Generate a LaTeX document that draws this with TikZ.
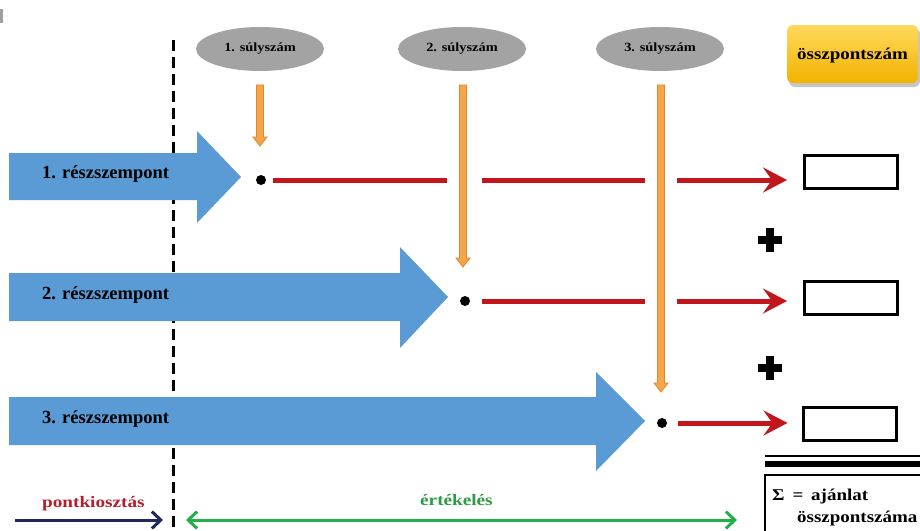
\documentclass[tikz,border=0pt]{standalone}
\usepackage{fontspec}
\setmainfont{Liberation Serif}
\usetikzlibrary{arrows.meta,shapes.geometric,calc}
\definecolor{blueA}{HTML}{5B9BD5}
\definecolor{orangeA}{HTML}{F5A54A}
\definecolor{orangeB}{HTML}{E38628}
\definecolor{redA}{HTML}{C3161C}
\definecolor{grayA}{HTML}{A3A3A3}
\definecolor{goldTop}{HTML}{FFD95C}
\definecolor{goldBot}{HTML}{F2B200}
\definecolor{greenA}{HTML}{22B04B}
\definecolor{greenT}{HTML}{2E9A46}
\definecolor{redT}{HTML}{B3202D}
\definecolor{navyA}{HTML}{1E2A5E}
\newcommand\widetxt[1]{\scalebox{1.15}[1]{#1}}
\begin{document}
\begin{tikzpicture}[x=1pt,y=-1pt,
  rlabel/.style={anchor=base west,inner sep=0pt,font=\fontsize{18.5}{20}\selectfont\bfseries},
  weight/.style={ellipse,fill=grayA,minimum width=128pt,minimum height=44pt,inner sep=0pt,
     font=\fontsize{12.5}{14}\selectfont\bfseries},
  dotn/.style={circle,fill=black,inner sep=0pt,minimum size=10pt},
  scorebox/.style={draw=black,line width=3pt,minimum width=93pt,minimum height=33pt,inner sep=0pt},
  redline/.style={draw=redA,line width=5pt},
  redarrow/.style={redline,-{Stealth[length=24pt,width=25pt,inset=9pt]}},
  sepline/.style={draw=black,line width=3pt,dash pattern=on 11pt off 6pt},
  plusline/.style={line width=8pt,draw=black},
  bottomarrow/.style={line width=3pt},
  mybarb/.tip={Straight Barb[length=9pt,width=17pt]}
]
\useasboundingbox (0,0) rectangle (920,530);
\clip (0,0) rectangle (920,530);
\fill[white] (0,0) rectangle (920,530);
% small mark at top-left
\fill[gray!75] (0,9) rectangle (3,23);

% separating dashed line
\coordinate (dtop) at (173,40);
\coordinate (dbot) at (173,532);
\draw[sepline] (dtop) -- (dbot);

% blue arrows
\fill[blueA] (9,153) -- (197,153) -- (197,131) -- (241,177) -- (197,223) -- (197,200) -- (9,200) -- cycle;
\fill[blueA] (9,273) -- (400,273) -- (400,247) -- (448,297) -- (400,348) -- (400,321) -- (9,321) -- cycle;
\fill[blueA] (9,397) -- (596,397) -- (596,372) -- (645,421) -- (596,471) -- (596,445) -- (9,445) -- cycle;
\node[rlabel] (r1) at (42,178) {1. részszempont};
\node[rlabel] (r2) at (42,299) {2. részszempont};
\node[rlabel] (r3) at (42,423) {3. részszempont};

% weight ellipses
\node[weight] (e1) at (260,49) {\widetxt{1. súlyszám}};
\node[weight] (e2) at (462,49) {\widetxt{2. súlyszám}};
\node[weight] (e3) at (660,49) {\widetxt{3. súlyszám}};

% orange arrows
\foreach \x/\t in {260/146,463/267,661/392}{
  \filldraw[fill=orangeA,draw=orangeB,line width=0.8pt]
    ({\x-3.5},85) -- ({\x+3.5},85) -- ({\x+3.5},{\t-9}) -- ({\x+7},{\t-9}) -- (\x,\t)
    -- ({\x-7},{\t-9}) -- ({\x-3.5},{\t-9}) -- cycle;
}

% dots
\node[dotn] (d1) at (261,180) {};
\node[dotn] (d2) at (465,301) {};
\node[dotn] (d3) at (662,423) {};

% score boxes
\node[scorebox] (b1) at (851,172) {};
\node[scorebox] (b2) at (851,298) {};
\node[scorebox] (b3) at (849.5,424) {};

% red lines
\coordinate (a1) at (447,180);
\coordinate (a2) at (482,180);
\coordinate (a3) at (645,180);
\coordinate (a4) at (677,180);
\draw[redline] ($(d1)+(12,0)$) -- (a1);
\draw[redline] (a2) -- (a3);
\draw[redarrow,shorten >=16pt] (a4) -- (b1.west |- d1);
\coordinate (c3) at (645,301);
\coordinate (c4) at (677,301);
\draw[redline] ($(d2)+(17,0)$) -- (c3);
\draw[redarrow,shorten >=16pt] (c4) -- (b2.west |- d2);
\draw[redarrow,shorten >=14pt] ($(d3)+(16,0)$) -- (b3.west |- d3);

% plus signs
\node[inner sep=0pt,minimum size=24pt] (p1) at (770,240) {};
\node[inner sep=0pt,minimum size=24pt] (p2) at (770,368) {};
\foreach \p in {p1,p2}{
  \draw[plusline] (\p.west) -- (\p.east);
  \draw[plusline] (\p.north) -- (\p.south);
}

% total score header
\fill[gray!45,rounded corners=6pt] (789,28) rectangle (920,87);
\shade[top color=goldTop,bottom color=goldBot,rounded corners=6pt] (787,25) rectangle (918,83);
\node[font=\fontsize{16.5}{18}\selectfont\bfseries,inner sep=0pt] (osz) at (852.5,56) {\widetxt{összpontszám}};

% double line and sum box
\coordinate (l1a) at (765,456);
\coordinate (l1b) at (922,456);
\coordinate (l2a) at (765,464);
\coordinate (l2b) at (922,464);
\draw[line width=2pt] (l1a) -- (l1b);
\draw[line width=6pt] (l2a) -- (l2b);
\draw[line width=2.5pt] (765,475) rectangle (935,545);
\node[anchor=base west,inner sep=0pt,font=\fontsize{16.5}{18}\selectfont\bfseries] (s1) at (772,500) {\widetxt{Σ\,\ =\ \,ajánlat}};
\node[anchor=base west,inner sep=0pt,font=\fontsize{16.5}{18}\selectfont\bfseries] (s2) at (797,522) {\widetxt{összpontszáma}};

% bottom labels and arrows
\node[anchor=base west,inner sep=0pt,text=redT,font=\fontsize{16}{18}\selectfont\bfseries] (pk) at (42,507) {\scalebox{1.2}[1]{pontkiosztás}};
\node[anchor=base west,inner sep=0pt,text=greenT,font=\fontsize{16}{18}\selectfont\bfseries] (ert) at (420,505) {\scalebox{1.2}[1]{értékelés}};
\coordinate (n1) at (15,520);
\coordinate (n2) at (163,520);
\draw[bottomarrow,draw=navyA,-mybarb] (n1) -- (n2);
\coordinate (g1) at (186,520);
\coordinate (g2) at (737,520);
\draw[bottomarrow,draw=greenA,mybarb-mybarb] (g1) -- (g2);
\end{tikzpicture}
\end{document}
